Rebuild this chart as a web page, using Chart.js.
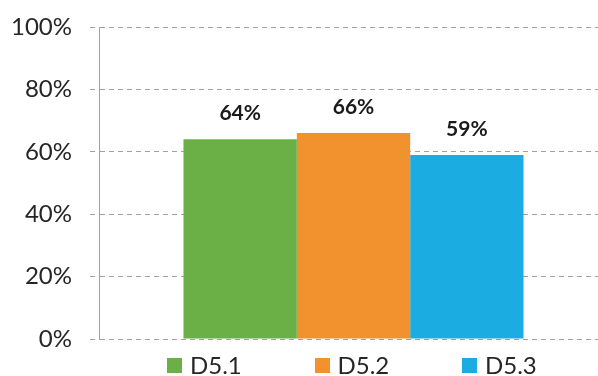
<!DOCTYPE html>
<html>
<head>
<meta charset="utf-8">
<script src="https://cdn.jsdelivr.net/npm/chart.js@4.4.1/dist/chart.umd.min.js"></script>
<style>
body{margin:0;background:#fff;}
#wrap{position:relative;width:598px;height:376px;overflow:hidden;}
#grafico{position:absolute;left:0;top:0;}
#leyenda{position:absolute;left:167px;top:353px;display:flex;font-family:Lato,"Open Sans",sans-serif;font-size:24px;line-height:24px;color:#262626;}
#leyenda .item{width:147.5px;display:flex;align-items:center;}
#leyenda .caja{width:15px;height:15px;margin-right:8px;}
</style>
</head>
<body>
<div id="wrap">
<canvas id="grafico" width="608" height="376"></canvas>
<div id="leyenda"></div>
</div>
<script>
// ==============================
// DATOS
// ==============================

const series = ["D5.1", "D5.2", "D5.3"];
const valores = [64, 66, 59];
const colores = ["#6AB046", "#F2922F", "#1BADE2"];
const ticksY = [0, 20, 40, 60, 80, 100];

// ==============================
// ETIQUETAS SOBRE LAS BARRAS
// ==============================

const etiquetas = {
  id: "etiquetas",
  afterDatasetsDraw(chart){
    const ctx = chart.ctx;
    ctx.save();
    ctx.font = "bold 21px Lato, 'Open Sans', sans-serif";
    ctx.fillStyle = "#1a1a1a";
    ctx.textAlign = "center";
    ctx.textBaseline = "alphabetic";
    chart.data.datasets.forEach((ds, i) => {
      const bar = chart.getDatasetMeta(i).data[0];
      ctx.fillText(ds.data[0] + "%", bar.x, bar.y - 19);
    });
    ctx.restore();
  }
};

// ==============================
// GRAFICO
// ==============================

const ctx = document.getElementById("grafico").getContext("2d");

const grafico = new Chart(ctx, {
  type: "bar",
  data: {
    labels: [""],
    datasets: series.map((s, i) => ({
      label: s,
      data: [valores[i]],
      backgroundColor: colores[i],
      categoryPercentage: 0.668,
      barPercentage: 1
    }))
  },
  options: {
    responsive: false,
    animation: false,
    layout: { padding: { top: 27, bottom: 37, left: 0, right: 0 } },
    plugins: {
      legend: { display: false },
      tooltip: { enabled: false }
    },
    scales: {
      x: { display: false },
      y: {
        min: 0,
        max: 100,
        afterFit(scale){
          scale.width = 99;
          scale.paddingTop = 0;
          scale.paddingBottom = 0;
        },
        afterBuildTicks(scale){ scale.ticks = ticksY.map(v => ({ value: v })); },
        ticks: {
          padding: 18,
          color: "#262626",
          font: { family: "Lato, 'Open Sans', sans-serif", size: 24 },
          callback: v => v + "%"
        },
        grid: {
          color: "#a0a0a0",
          tickLength: 9,
          tickColor: "#a0a0a0",
          tickBorderDash: [5, 4]
        },
        border: { color: "#a0a0a0", width: 1, dash: [5, 4] }
      }
    }
  },
  plugins: [etiquetas]
});

// ==============================
// LEYENDA
// ==============================

const leyenda = document.getElementById("leyenda");
grafico.data.datasets.forEach(ds => {
  leyenda.innerHTML += `<div class="item"><span class="caja" style="background:${ds.backgroundColor}"></span><span>${ds.label}</span></div>`;
});
</script>
</body>
</html>
